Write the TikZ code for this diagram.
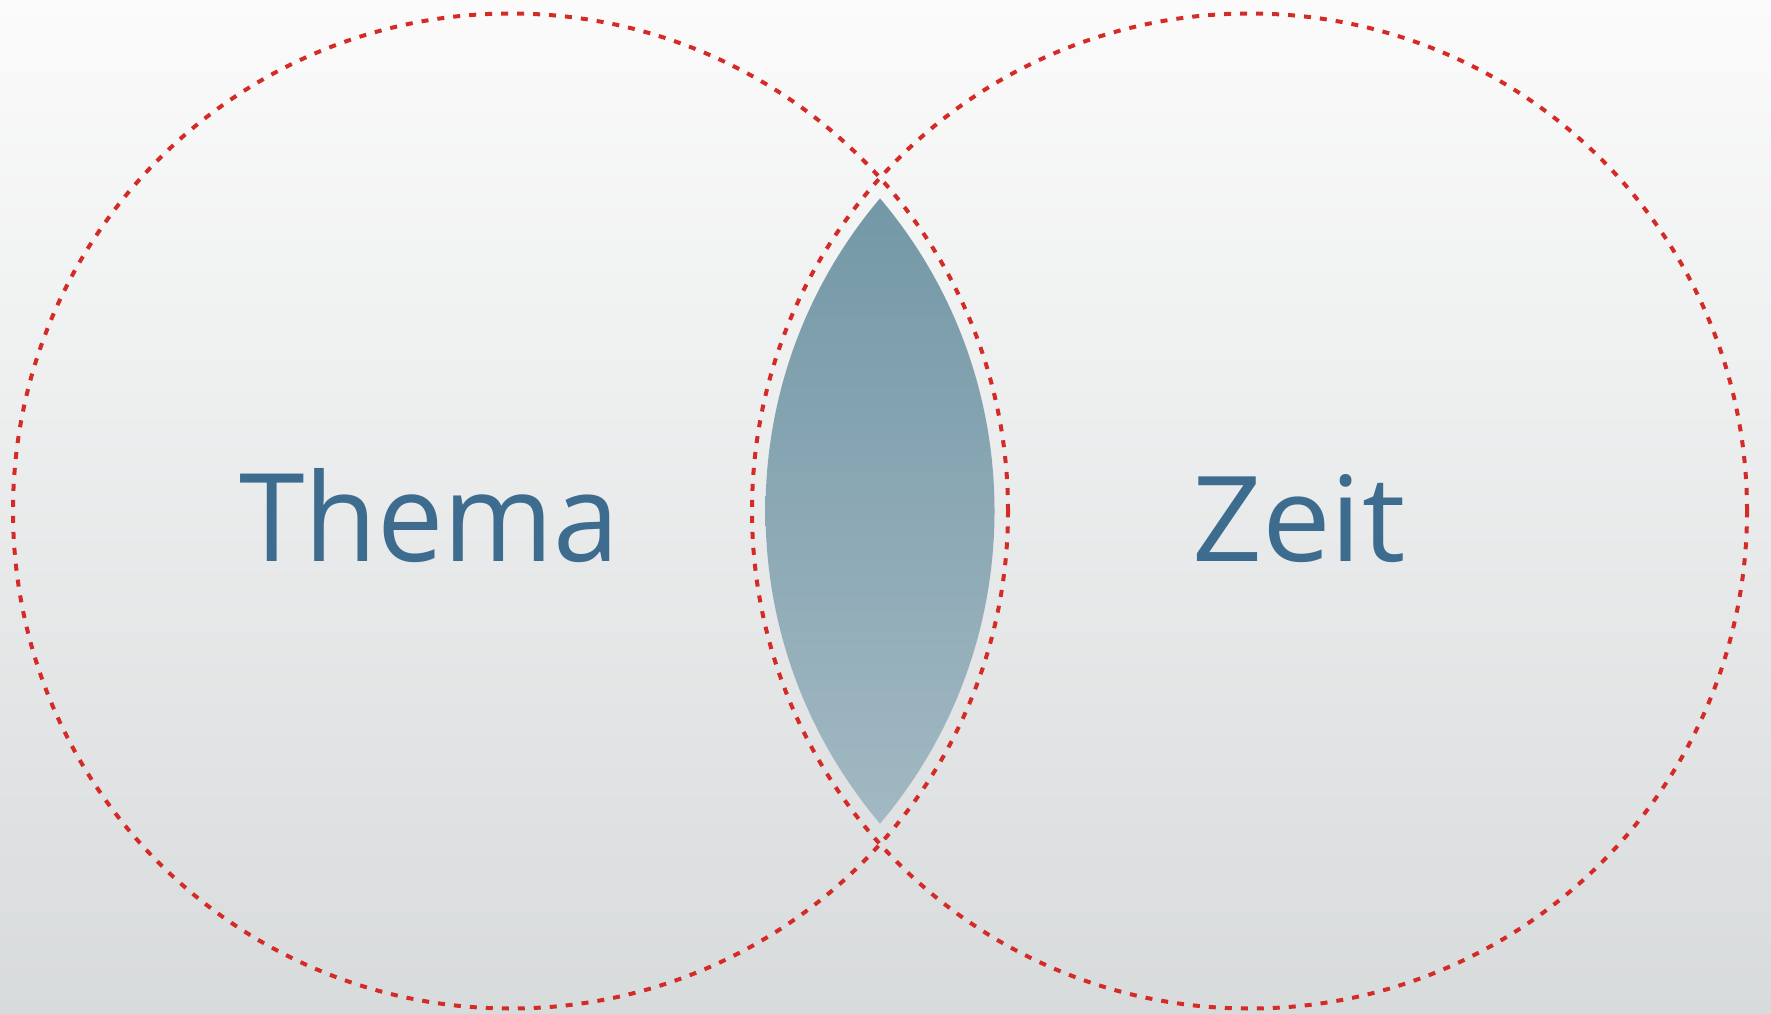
\documentclass[tikz,border=0pt]{standalone}
\usepackage{fontspec}
\setmainfont{Open Sans}
\usepackage{graphicx}
\definecolor{bgtop}{HTML}{FBFBFB}
\definecolor{bgbot}{HTML}{D8DBDC}
\definecolor{lenstop}{HTML}{7397A6}
\definecolor{lensbot}{HTML}{A3B9C3}
\definecolor{dashred}{HTML}{D42B27}
\definecolor{txtblue}{HTML}{3E6C8E}
\tikzset{
  setring/.style={draw=dashred, line width=4pt, dash pattern=on 7pt off 9pt},
  setlabel/.style={text=txtblue, inner sep=0pt, anchor=base west}
}
\begin{document}
\begin{tikzpicture}[x=1pt,y=1pt]
\useasboundingbox (0,0) rectangle (1771,1013);
\shade[top color=bgtop, bottom color=bgbot] (0,0) rectangle (1771,1013);
\begin{scope}
  \clip (510.5,502) circle (484);
  \clip (1249.5,502) circle (484);
  \shade[top color=lenstop, bottom color=lensbot] (760,180) rectangle (1000,825);
\end{scope}
\coordinate (cl) at (510.5,502);
\coordinate (cr) at (1249.5,502);
\draw[setring] (cl) circle (497.5);
\draw[setring] (cr) circle (497.5);
\node[setlabel] (thema) at (239,451) {\resizebox{380pt}{93pt}{Thema}};
\node[setlabel] (zeit) at (1192,451) {\resizebox{213pt}{87pt}{Zeit}};
\end{tikzpicture}
\end{document}
